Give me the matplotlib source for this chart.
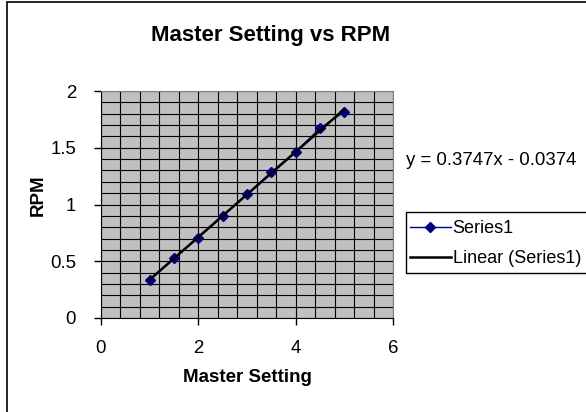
import numpy as np
import matplotlib.pyplot as plt
from matplotlib.patches import Rectangle

plt.rcParams['font.family'] = ['Liberation Sans', 'DejaVu Sans']

# data
master_setting = [1, 1.5, 2, 2.5, 3, 3.5, 4, 4.5, 5]
rpm = [0.335, 0.526, 0.708, 0.899, 1.09, 1.284, 1.465, 1.671, 1.818]
equation_label = "y = 0.3747x - 0.0374"
x_ticks = [0, 2, 4, 6]
y_ticks = [0, 0.5, 1, 1.5, 2]

fig = plt.figure(figsize=(5.86, 4.12), dpi=100)
fig.patch.set_facecolor('white')

# outer chart border (runs off the right and bottom edges)
fig.patches.append(Rectangle((7 / 586, -0.1), 1.2, 1.1 - 2 / 412,
                             transform=fig.transFigure, fill=False,
                             edgecolor='black', linewidth=1.2))

ax = fig.add_axes([101 / 586, 1 - 318 / 412, 292 / 586, 227 / 412])
ax.set_facecolor('#C0C0C0')

# grid every 0.4 on x, 0.1 on y
ax.set_xticks(np.arange(0, 6.01, 0.4), minor=True)
ax.set_yticks(np.arange(0, 2.001, 0.1), minor=True)
ax.grid(which='both', color='black', linewidth=0.8)
ax.set_axisbelow(True)

ax.plot(master_setting, rpm, color='#000080', linewidth=1, marker='D',
        markersize=5.5, label='Series1', zorder=3)

coef = np.polyfit(master_setting, rpm, 1)
xs = np.array([min(master_setting), max(master_setting)])
ax.plot(xs, np.polyval(coef, xs), color='black', linewidth=1.8,
        label='Linear (Series1)', zorder=4)

ax.set_xlim(0, 6)
ax.set_ylim(0, 2)
ax.set_xticks(x_ticks)
ax.set_yticks(y_ticks)
ax.set_xticklabels([str(v) for v in x_ticks])
ax.set_yticklabels([f"{v:g}" for v in y_ticks])
ax.tick_params(which='major', direction='out', length=5, width=1,
               labelsize=13.4)
ax.tick_params(axis='x', which='major', pad=10.5)
ax.tick_params(axis='y', which='major', pad=13)
ax.tick_params(which='minor', length=0)

for side in ['top', 'right']:
    ax.spines[side].set_color('#808080')
for side in ['left', 'bottom']:
    ax.spines[side].set_color('black')

ax.set_xlabel('Master Setting', fontsize=13.5, fontweight='bold')
ax.set_ylabel('RPM', fontsize=13.5, fontweight='bold')
ax.xaxis.set_label_coords(0.5, -(369 - 318) / 227)
ax.yaxis.set_label_coords(-(101 - 47) / 292, (318 - 195) / 227)

fig.text(271 / 586, 1 - 36 / 412, 'Master Setting vs RPM', fontsize=16,
         fontweight='bold', ha='center', va='center')

fig.text(406 / 586, 1 - 160 / 412, equation_label, fontsize=13.4,
         ha='left', va='center')

leg = fig.legend(loc='upper left', bbox_to_anchor=(402 / 586, 1 - 212 / 412),
                 fontsize=13, frameon=False, handlelength=2.25,
                 handletextpad=0.1, labelspacing=0.72, borderpad=0.45,
                 borderaxespad=0)
# legend box, cut off by the right edge like the original
fig.patches.append(Rectangle((406 / 586, 1 - 273 / 412), 0.5, 61 / 412,
                             transform=fig.transFigure, fill=False,
                             edgecolor='black', linewidth=1))

fig.savefig('out.png', dpi=100)
